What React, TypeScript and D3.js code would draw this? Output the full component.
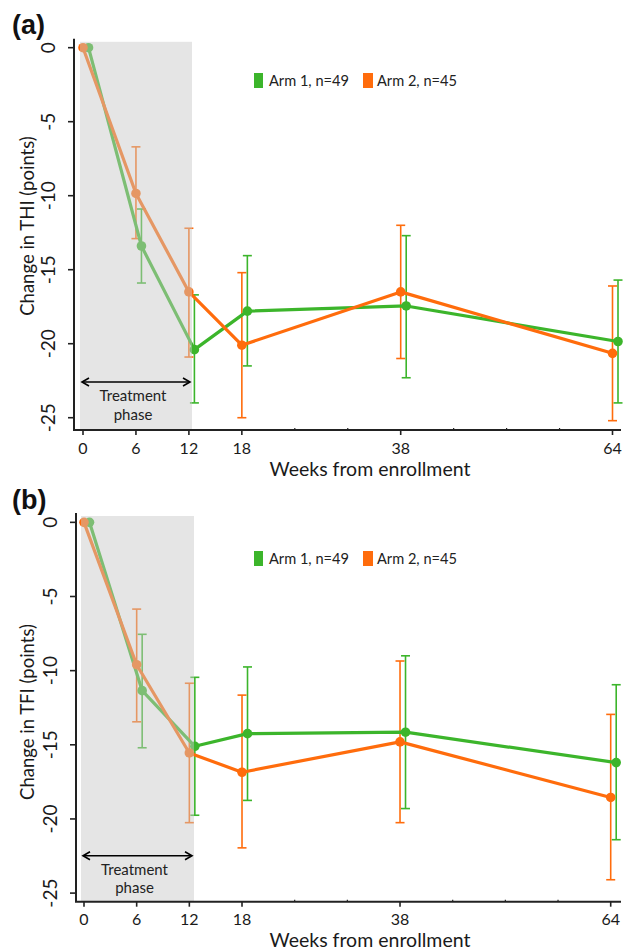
import React from "react";
import * as d3 from "d3";

const tickWeeks = [0, 6, 12, 18, 38, 64];
const tickSlots = [0, 1, 2, 3, 6, 10];
const minorSlots = [4, 5, 7, 8, 9];
const yTicks = [0, -5, -10, -15, -20, -25];

const weeks = [0, 6, 12, 18, 38, 64];

// Panel (a) THI
const thiArm1 = [0, -13.4, -20.4, -17.8, -17.45, -19.85];
const thiArm1Lo = [0, -15.9, -24.0, -21.5, -22.3, -24.0];
const thiArm1Hi = [0, -10.9, -16.7, -14.05, -12.7, -15.7];
const thiArm2 = [0, -9.85, -16.5, -20.1, -16.5, -20.65];
const thiArm2Lo = [0, -12.9, -20.9, -25.0, -21.0, -25.2];
const thiArm2Hi = [0, -6.7, -12.2, -15.2, -12.0, -16.1];

// Panel (b) TFI
const tfiArm1 = [0, -11.35, -15.1, -14.25, -14.15, -16.2];
const tfiArm1Lo = [0, -15.2, -19.75, -18.75, -19.3, -21.4];
const tfiArm1Hi = [0, -7.55, -10.45, -9.75, -9.0, -10.95];
const tfiArm2 = [0, -9.6, -15.55, -16.85, -14.8, -18.55];
const tfiArm2Lo = [0, -13.45, -20.25, -21.95, -20.25, -24.1];
const tfiArm2Hi = [0, -5.85, -10.85, -11.65, -9.35, -12.95];

const legendLabels = ["Arm 1, n=49", "Arm 2, n=45"];
const GREEN = "#3cb52b";
const ORANGE = "#ff6c0c";
const FONT = "Lato, 'Open Sans', sans-serif";
const TEXT = "#1a1a1a";

type PanelProps = {
  tag: string;
  yLabel: string;
  top: number;
  bottom: number;
  yDomain: [number, number];
  xLeft: number;
  xRight: number;
  axisX: number;
  grayLeft: number;
  grayRight: number;
  legendY: number;
  arrowY: number;
  a1: number[]; a1lo: number[]; a1hi: number[];
  a2: number[]; a2lo: number[]; a2hi: number[];
  yLabelCenter: number;
  tagY: number;
};

function Panel(p: PanelProps) {
  const slot = d3.scaleLinear().domain([0, 10]).range([p.xLeft, p.xRight]);
  const w2s = d3.scaleLinear().domain(tickWeeks).range(tickSlots);
  const x = (w: number) => slot(w2s(w));
  const y = d3.scaleLinear().domain(p.yDomain).range([p.top, p.bottom]);
  const dodge = 5.5;

  const series = [
    { v: p.a1, lo: p.a1lo, hi: p.a1hi, color: GREEN, dx: dodge },
    { v: p.a2, lo: p.a2lo, hi: p.a2hi, color: ORANGE, dx: 0 },
  ];
  const line = (s: typeof series[0]) =>
    d3.line<number>()
      .x((_, i) => x(weeks[i]) + s.dx)
      .y((d) => y(d))(s.v) as string;

  const grayTop = p.top + 3;

  return (
    <g>
      <text x={12} y={p.tagY} fontFamily="'Liberation Sans', Arial, sans-serif" fontWeight="bold" fontSize={27} fill="#111">
        {p.tag}
      </text>
      {series.map((s, si) => (
        <g key={"eb" + si}>
          {weeks.map((w, i) => {
            if (i === 0) return null;
            const cx = x(w) + s.dx;
            return (
              <g key={i} stroke={s.color} strokeWidth={1.6}>
                <line x1={cx} x2={cx} y1={y(s.lo[i])} y2={y(s.hi[i])} />
                <line x1={cx - 4.5} x2={cx + 4.5} y1={y(s.lo[i])} y2={y(s.lo[i])} />
                <line x1={cx - 4.5} x2={cx + 4.5} y1={y(s.hi[i])} y2={y(s.hi[i])} />
              </g>
            );
          })}
        </g>
      ))}
      {series.map((s, si) => (
        <g key={"ln" + si}>
          <path d={line(s)} fill="none" stroke={s.color} strokeWidth={3.2} strokeLinejoin="round" />
          {s.v.map((v, i) => (
            <circle key={i} cx={x(weeks[i]) + s.dx} cy={y(v)} r={4.8} fill={s.color} />
          ))}
        </g>
      ))}
      <rect
        x={p.grayLeft}
        y={grayTop}
        width={p.grayRight - p.grayLeft}
        height={p.bottom - grayTop}
        fill="rgb(199,199,199)"
        fillOpacity={0.47}
      />
      <g stroke="#000" strokeWidth={1.6} fill="none">
        <line x1={p.grayLeft + 3} x2={p.grayRight - 3} y1={p.arrowY} y2={p.arrowY} />
        <path d={`M${p.grayLeft + 9},${p.arrowY - 4} L${p.grayLeft + 2},${p.arrowY} L${p.grayLeft + 9},${p.arrowY + 4}`} />
        <path d={`M${p.grayRight - 9},${p.arrowY - 4} L${p.grayRight - 2},${p.arrowY} L${p.grayRight - 9},${p.arrowY + 4}`} />
      </g>
      <text x={(p.grayLeft + p.grayRight) / 2 - 3} y={p.arrowY + 19} textAnchor="middle" fontFamily={FONT} fontSize={15} fill="#222">
        Treatment
      </text>
      <text x={(p.grayLeft + p.grayRight) / 2 - 3} y={p.arrowY + 37.5} textAnchor="middle" fontFamily={FONT} fontSize={15} fill="#222">
        phase
      </text>
      <line x1={p.axisX} x2={p.axisX} y1={p.top} y2={p.bottom} stroke="#222" strokeWidth={2} />
      {yTicks.map((t) => (
        <g key={t}>
          <line x1={p.axisX - 6} x2={p.axisX} y1={y(t)} y2={y(t)} stroke="#222" strokeWidth={1.6} />
          <text
            transform={`translate(${p.axisX - 19},${y(t)}) rotate(-90)`}
            textAnchor="middle"
            fontFamily={FONT}
            fontSize={19}
            fill={TEXT}
          >
            {t}
          </text>
        </g>
      ))}
      <text
        transform={`translate(34,${p.yLabelCenter}) rotate(-90)`}
        textAnchor="middle"
        fontFamily={FONT}
        fontSize={18.5}
        fill={TEXT}
      >
        {p.yLabel}
      </text>
      <line x1={p.axisX - 1} x2={621} y1={p.bottom} y2={p.bottom} stroke="#222" strokeWidth={2} />
      {tickWeeks.map((w) => (
        <g key={w}>
          <line x1={x(w)} x2={x(w)} y1={p.bottom} y2={p.bottom + 5} stroke="#222" strokeWidth={1.6} />
          <text x={x(w)} y={p.bottom + 23.5} textAnchor="middle" fontFamily={FONT} fontSize={16} fill={TEXT}>
            {w}
          </text>
        </g>
      ))}
      {minorSlots.map((s) => (
        <line key={s} x1={slot(s)} x2={slot(s)} y1={p.bottom - 2} y2={p.bottom} stroke="#222" strokeWidth={1.2} />
      ))}
      <text x={370} y={p.bottom + 45.5} textAnchor="middle" fontFamily={FONT} fontSize={19.5} fill={TEXT}>
        Weeks from enrollment
      </text>
      <g fontFamily={FONT} fontSize={14.6} fill="#222">
        <rect x={254} y={p.legendY - 8} width={9} height={15} fill={GREEN} />
        <text x={269} y={p.legendY + 5}>{legendLabels[0]}</text>
        <rect x={363} y={p.legendY - 8} width={10} height={15} fill={ORANGE} />
        <text x={377} y={p.legendY + 5}>{legendLabels[1]}</text>
      </g>
    </g>
  );
}

export default function App() {
  return (
    <svg width={624} height={952} style={{ position: "absolute", left: 0, top: 0, background: "#fff" }}>
      <rect width={624} height={952} fill="#fff" />
      <Panel
        tag="(a)"
        tagY={34}
        yLabel="Change in THI (points)"
        top={38.8}
        bottom={430}
        yDomain={[0.6, -25.83]}
        xLeft={83}
        xRight={612.5}
        axisX={74}
        grayLeft={80}
        grayRight={192}
        legendY={81}
        arrowY={382}
        a1={thiArm1} a1lo={thiArm1Lo} a1hi={thiArm1Hi}
        a2={thiArm2} a2lo={thiArm2Lo} a2hi={thiArm2Hi}
        yLabelCenter={226}
      />
      <Panel
        tag="(b)"
        tagY={509}
        yLabel="Change in TFI (points)"
        top={513}
        bottom={901.7}
        yDomain={[0.63, -25.58]}
        xLeft={84}
        xRight={610.7}
        axisX={76}
        grayLeft={81}
        grayRight={194}
        legendY={559}
        arrowY={855.7}
        a1={tfiArm1} a1lo={tfiArm1Lo} a1hi={tfiArm1Hi}
        a2={tfiArm2} a2lo={tfiArm2Lo} a2hi={tfiArm2Hi}
        yLabelCenter={712}
      />
    </svg>
  );
}
